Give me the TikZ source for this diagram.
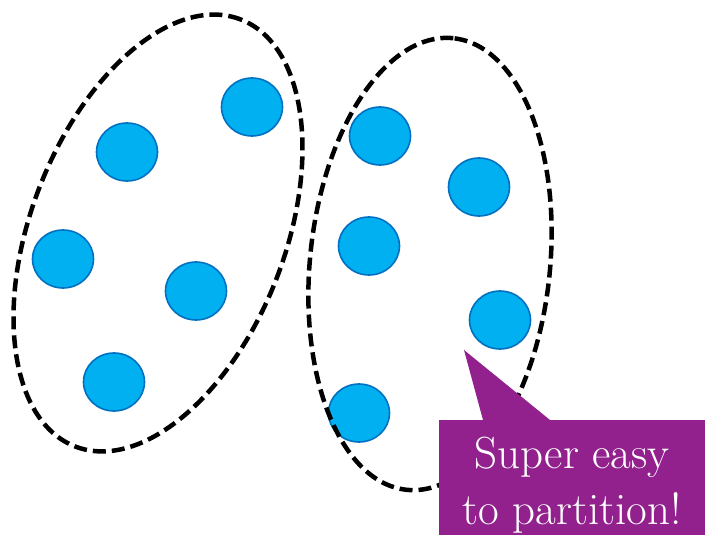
\documentclass[tikz,border=0pt]{standalone}
\usepackage{fontspec}
\usetikzlibrary{shapes.geometric,calc}
\definecolor{dotfill}{RGB}{0,176,240}
\definecolor{dotline}{RGB}{0,112,192}
\definecolor{purp}{RGB}{146,33,142}
\begin{document}
\begin{tikzpicture}[x=1pt,y=-1pt,
  dot/.style={ellipse, draw=dotline, fill=dotfill, line width=1.6pt,
    minimum width=61pt, minimum height=58pt, inner sep=0pt},
  groupline/.style={line width=4.5pt, dash pattern=on 13pt off 6pt},
  calloutbox/.style={fill=purp, minimum width=266pt, minimum height=115pt,
    inner sep=0pt, anchor=north west},
  callouttext/.style={text=white, align=center,
    font=\fontsize{45}{56}\selectfont}]
\useasboundingbox (0,0) rectangle (705,535);
% left group
\node[dot] (l1) at (252,107) {};
\node[dot] (l2) at (127,152) {};
\node[dot] (l3) at (63,259) {};
\node[dot] (l4) at (196,291) {};
\node[dot] (l5) at (114,382) {};
% right group
\node[dot] (r1) at (380,136) {};
\node[dot] (r2) at (479,187) {};
\node[dot] (r3) at (369,246) {};
\node[dot] (r4) at (500,320) {};
\node[dot] (r5) at (359,413) {};
% group outlines
\coordinate (lc) at (158,233);
\coordinate (rc) at (430,264);
\draw[groupline, rotate around={68.8:(lc)}] (lc) ellipse [x radius=229pt, y radius=127pt];
\draw[groupline, rotate around={84.1:(rc)}] (rc) ellipse [x radius=227pt, y radius=120pt];
% callout
\node[calloutbox] (call) at (439,420) {};
\coordinate (tip) at (464,350);
\fill[purp] (tip) -- ($(call.north west)+(44,0)$) -- ($(call.north west)+(111,0)$) -- cycle;
\node[callouttext] (txt) at ($(call.center)+(0,7)$) {Super easy\\to partition!};
\end{tikzpicture}
\end{document}
